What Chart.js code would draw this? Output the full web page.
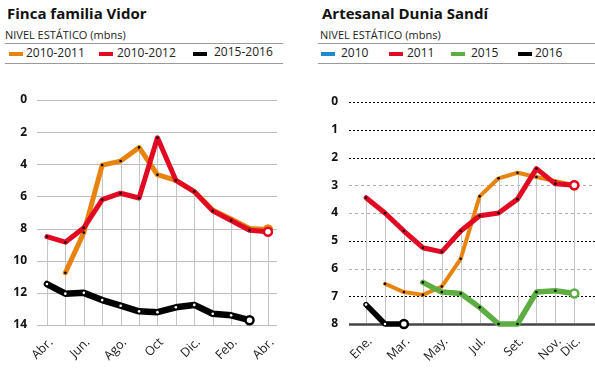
<!DOCTYPE html>
<html>
<head>
<meta charset="utf-8">
<script src="https://cdn.jsdelivr.net/npm/chart.js@4/dist/chart.umd.min.js"></script>
<style>
  html,body{margin:0;padding:0;background:#fff;}
  body{width:595px;height:373px;position:relative;overflow:hidden;font-family:"Open Sans",sans-serif;color:#111;}
  .abs{position:absolute;white-space:nowrap;}
  .title{font-weight:700;font-size:15px;line-height:15px;}
  .sub{font-size:11px;line-height:11px;color:#222;}
  .leg{font-size:12px;line-height:12px;color:#222;}
  .sw{position:absolute;height:4px;width:14px;}
  .rule{position:absolute;height:1px;background:#9a9a9a;}
  canvas{position:absolute;}
</style>
</head>
<body>
<!-- Left panel header -->
<div class="abs title" style="left:7px;top:5.7px;">Finca familia Vidor</div>
<div class="abs sub" style="left:5px;top:29.2px;">NIVEL ESTÁTICO (mbns)</div>
<div class="rule" style="left:5px;top:43px;width:278px;"></div>
<div class="sw" style="left:9px;top:52px;background:#E8830F;"></div>
<div class="abs leg" style="left:26px;top:46.5px;">2010-2011</div>
<div class="sw" style="left:99px;top:52px;background:#E20A22;"></div>
<div class="abs leg" style="left:117px;top:46.5px;">2010-2012</div>
<div class="sw" style="left:193px;top:52px;background:#000;"></div>
<div class="abs leg" style="left:214px;top:45.5px;">2015-2016</div>
<div class="rule" style="left:5px;top:63px;width:278px;"></div>

<!-- Right panel header -->
<div class="abs title" style="left:322px;top:5.7px;">Artesanal Dunia Sandí</div>
<div class="abs sub" style="left:320px;top:29.2px;">NIVEL ESTÁTICO (mbns)</div>
<div class="rule" style="left:318px;top:43px;width:277px;"></div>
<div class="sw" style="left:321px;top:52px;background:#1B8BC9;"></div>
<div class="abs leg" style="left:341px;top:46.5px;">2010</div>
<div class="sw" style="left:389px;top:52px;background:#E20A22;"></div>
<div class="abs leg" style="left:407px;top:46.5px;">2011</div>
<div class="sw" style="left:451px;top:52px;background:#5DAE42;"></div>
<div class="abs leg" style="left:471px;top:46.5px;">2015</div>
<div class="sw" style="left:518px;top:52px;background:#000;"></div>
<div class="abs leg" style="left:535px;top:46.5px;">2016</div>
<div class="rule" style="left:318px;top:63px;width:277px;"></div>

<canvas id="cL" width="297" height="310" style="left:0;top:63px;width:297px;height:310px;"></canvas>
<canvas id="cR" width="295" height="310" style="left:300px;top:63px;width:295px;height:310px;"></canvas>

<script>
// ---------- DATA: Finca familia Vidor ----------
const monthsL = ["Abr.","May.","Jun.","Jul.","Ago.","Sep.","Oct","Nov.","Dic.","Ene.","Feb.","Mar.","Abr."];
const ticksShownL = [0,2,4,6,8,10,12];
const vidor_2010_2011 = [null,10.75,8.25,4.05,3.8,2.95,4.65,5.0,5.7,6.85,7.4,8.0,8.05];
const vidor_2010_2012 = [8.5,8.85,7.95,6.2,5.8,6.1,2.35,5.0,5.7,6.9,7.5,8.1,8.2];
const vidor_2015_2016 = [11.45,12.05,12.0,12.45,12.8,13.15,13.2,12.9,12.75,13.3,13.4,13.7,null];
const yTicksL = [0,2,4,6,8,10,12,14];

// ---------- DATA: Artesanal Dunia Sandí ----------
const monthsR = ["Ene.","Feb.","Mar.","Abr.","May.","Jun.","Jul.","Ago.","Set.","Oct.","Nov.","Dic."];
const ticksShownR = [0,2,4,6,8,10,11];
const dunia_2010 = [null,6.55,6.85,6.95,6.65,5.65,3.4,2.75,2.55,2.7,2.85,3.0];
const dunia_2011 = [3.45,4.0,4.65,5.25,5.4,4.65,4.1,4.0,3.5,2.4,2.95,3.0];
const dunia_2015 = [null,null,null,6.5,6.85,6.9,7.4,8.0,8.0,6.85,6.8,6.9];
const dunia_2016 = [7.3,8.0,8.0,null,null,null,null,null,null,null,null,null];
const yTicksR = [0,1,2,3,4,5,6,7,8];

const ORANGE="#E8830F", RED="#E20A22", GREEN="#5DAE42", BLACK="#000000";

function lastIdx(arr){ let l=-1; arr.forEach((v,i)=>{ if(v!=null) l=i; }); return l; }
function ds(arr,color,dot,width,order){
  const last = lastIdx(arr);
  return {
    order: order,
    data: arr.map((v,i)=>({x:i,y:v})),
    borderColor: color,
    borderWidth: width,
    borderCapStyle:'round',
    borderJoinStyle:'round',
    tension:0,
    spanGaps:false,
    clip:false,
    pointRadius: arr.map((v,i)=> v==null?0:(i===last?4:1.3)),
    pointHoverRadius: 0,
    pointBackgroundColor: arr.map((v,i)=> i===last?'#fff':dot),
    pointBorderColor: arr.map((v,i)=> i===last?color:dot),
    pointBorderWidth: arr.map((v,i)=> i===last?2.5:0)
  };
}

const gridPlugin = {
  id:'customGrid',
  beforeDatasetsDraw(chart, args, opts){
    const {ctx, chartArea, scales:{x,y}} = chart;
    ctx.save();
    const right = opts.toEdge ? chart.width : chartArea.right;
    opts.lines.forEach(l=>{
      const py = Math.round(y.getPixelForValue(l.value)) + (l.width%2 ? 0.5 : 0);
      ctx.beginPath();
      ctx.strokeStyle = l.color; ctx.lineWidth = l.width;
      ctx.setLineDash(l.dash||[]);
      ctx.moveTo(chartArea.left, py); ctx.lineTo(right, py); ctx.stroke();
    });
    ctx.setLineDash([]);
    ctx.strokeStyle = opts.dropColor; ctx.lineWidth = 1;
    for(let i=0;i<opts.count;i++){
      let m = Infinity;
      chart.data.datasets.forEach(d=>{ const v=d.data[i] && d.data[i].y; if(v!=null && v<m) m=v; });
      if(m===Infinity) continue;
      const px = Math.round(x.getPixelForValue(i))+0.5;
      ctx.beginPath();
      ctx.moveTo(px, y.getPixelForValue(m));
      ctx.lineTo(px, y.getPixelForValue(opts.axisMax) - (opts.stopAbove||0));
      ctx.stroke();
    }
    ctx.restore();
  }
};

function makeChart(id, cfg){
  return new Chart(document.getElementById(id), {
    type:'line',
    data:{ datasets: cfg.datasets },
    options:{
      responsive:false, animation:false, events:[],
      layout:{ padding:{ top:cfg.top, right:cfg.padRight, left:0, bottom:0 } },
      plugins:{ legend:{display:false}, tooltip:{enabled:false}, customGrid: cfg.grid },
      scales:{
        x:{
          type:'linear', min:cfg.xmin, max:cfg.xmax,
          grid:{display:false, drawTicks:false}, border:{display:false},
          afterBuildTicks:(s)=>{ s.ticks = cfg.shown.map(i=>({value:i})); },
          afterFit:(s)=>{ s.height = cfg.xh; s.paddingLeft=0; s.paddingRight=0; },
          ticks:{
            autoSkip:false, maxRotation:45, minRotation:45, padding:cfg.xpad, labelOffset:4,
            color:'#222', font:{family:'Open Sans', size:12.5},
            callback:(v)=> cfg.labels[v]
          }
        },
        y:{
          type:'linear', reverse:true, min:0, max:cfg.ymax,
          grid:{display:false, drawTicks:false}, border:{display:false},
          afterBuildTicks:(s)=>{ s.ticks = cfg.yticks.map(v=>({value:v})); },
          afterFit:(s)=>{ s.width = cfg.yw; s.paddingTop=0; s.paddingBottom=0; },
          ticks:{ padding:cfg.ypad, color:'#111', font:{family:'Open Sans', size:12, weight:'bold'} }
        }
      }
    },
    plugins:[gridPlugin]
  });
}

makeChart('cL', {
  datasets:[
    ds(vidor_2010_2011, ORANGE, '#000', 5, 3),
    ds(vidor_2010_2012, RED, '#000', 5, 2),
    ds(vidor_2015_2016, BLACK, '#fff', 6.5, 1)
  ],
  labels: monthsL, shown: ticksShownL, yticks: yTicksL,
  xmin:-0.54, xmax:12.49, ymax:14, top:37, padRight:20, xh:48, yw:37, ypad:10, xpad:10,
  grid:{ toEdge:false, count:monthsL.length, axisMax:14, dropColor:'#c4c4c4',
    lines: yTicksL.map(v=>({value:v, color:'#bdbdbd', width:1})) }
});

makeChart('cR', {
  datasets:[
    ds(dunia_2010, ORANGE, '#000', 4, 4),
    ds(dunia_2011, RED, '#000', 5, 3),
    ds(dunia_2015, GREEN, '#000', 5.5, 2),
    ds(dunia_2016, BLACK, '#fff', 5.5, 1)
  ],
  labels: monthsR, shown: ticksShownR, yticks: yTicksR,
  xmin:-0.9, xmax:11.75, ymax:8, top:39, padRight:0, xh:49, yw:49, ypad:11, xpad:10,
  grid:{ toEdge:true, count:monthsR.length, axisMax:8, dropColor:'#c4c4c4', stopAbove:1,
    lines: [
      {value:0,color:'#000',width:1,dash:[2,2]},
      {value:1,color:'#000',width:1,dash:[2,2]},
      {value:2,color:'#000',width:1,dash:[2,2]},
      {value:3,color:'#b0b0b0',width:1,dash:[3,3]},
      {value:4,color:'#b0b0b0',width:1,dash:[3,3]},
      {value:5,color:'#000',width:1,dash:[2,2]},
      {value:6,color:'#b0b0b0',width:1,dash:[3,3]},
      {value:7,color:'#000',width:1,dash:[2,2]},
      {value:8,color:'#444',width:2.5}
    ] }
});
</script>
</body>
</html>
